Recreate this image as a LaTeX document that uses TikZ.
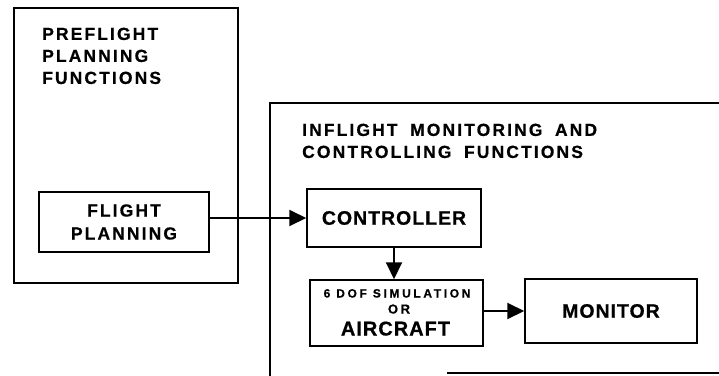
\documentclass[tikz,border=0pt]{standalone}
\usepackage{fontspec}
\setmainfont{Liberation Sans}
\newfontfamily\fhead{Liberation Sans}[LetterSpace=12, WordSpace=1.8, UprightFont=*-Bold, FakeBold=0.6]
\newfontfamily\fbig{Liberation Sans}[LetterSpace=5, UprightFont=*-Bold, FakeBold=0.6]
\newfontfamily\fsmall{Liberation Sans}[LetterSpace=22, UprightFont=*-Bold, FakeBold=0.6]
\newfontfamily\for{Liberation Sans}[LetterSpace=20, UprightFont=*-Bold, FakeBold=0.6]
\usetikzlibrary{arrows.meta}
\begin{document}
\begin{tikzpicture}[x=1pt,y=-1pt,
  head/.style={font=\fontsize{17.5}{22}\selectfont\fhead, align=left, inner sep=0pt, anchor=north west},
  box/.style={draw, line width=1.5pt, inner sep=0pt, align=center},
  big/.style={font=\fontsize{19.5}{23}\selectfont\fbig},
  lbl/.style={inner sep=0pt, anchor=base},
  frame/.style={line width=2pt},
  arr/.style={line width=2pt, -{Triangle[length=17pt,width=16pt]}}
]
\useasboundingbox (0,0) rectangle (719,375);
\clip (0,0) rectangle (719,375);
% left frame
\draw[frame] (14,8) rectangle (238,283);
% right frame (extends beyond the picture)
\draw[frame] (719,103) -- (270,103) -- (270,376);
\draw[frame] (447,373) -- (719,373);
\node[head] (pre) at (42,27.5) {PREFLIGHT\\PLANNING\\FUNCTIONS};
\node[head] (inf) at (302,123.5) {INFLIGHT MONITORING AND\\CONTROLLING FUNCTIONS};
\node[box, minimum width=170pt, minimum height=60pt,
      font=\fontsize{17.5}{23}\selectfont\fhead] (fp) at (124,222) {FLIGHT\\PLANNING};
\node[box, big, minimum width=174pt, minimum height=58pt, text width=174pt] (ctrl) at (394,218) {CONTROLLER\hspace*{8pt}};
\node[box, minimum width=173pt, minimum height=66pt] (sim) at (396.5,313) {};
\node[lbl, font=\fontsize{12}{12}\selectfont\fsmall] (simA) at (397,297.5) {6 DOF SIMULATION};
\node[lbl, font=\fontsize{13}{14}\selectfont\for] (simB) at (399,313.5) {OR};
\node[lbl, font=\fontsize{20}{20}\selectfont\fbig] (simC) at (395.5,335.5) {AIRCRAFT};
\node[box, big, minimum width=172pt, minimum height=64pt, text width=172pt] (mon) at (611,311) {MONITOR\hspace*{6pt}};
\draw[arr] (fp.east |- ctrl) -- (ctrl.west);
\draw[arr] (ctrl.south) -- (ctrl.south |- sim.north);
\draw[arr] (sim.east |- mon) -- (mon.west);
\end{tikzpicture}
\end{document}
